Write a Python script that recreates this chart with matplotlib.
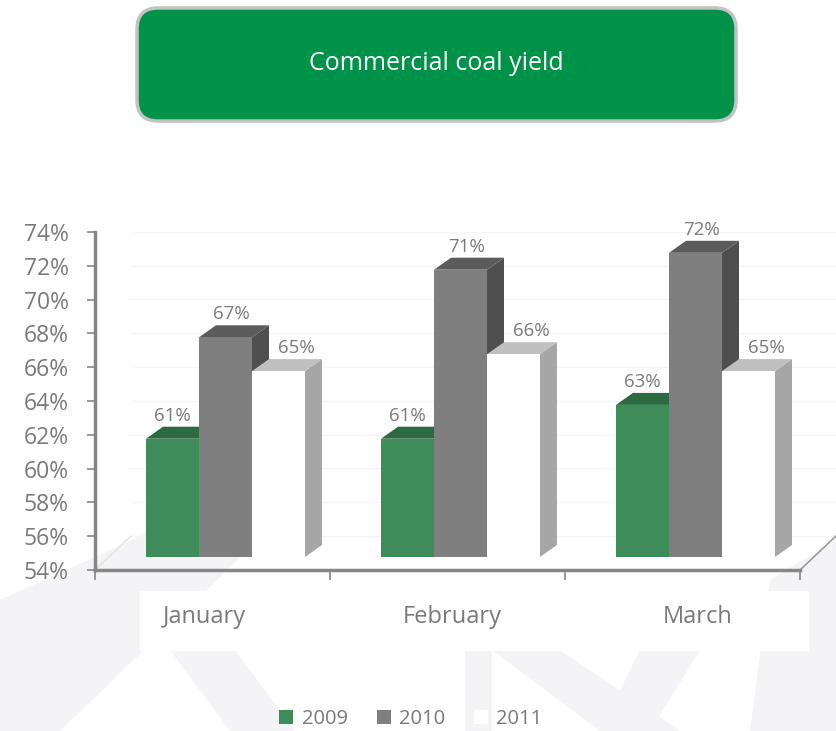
import matplotlib
matplotlib.use("Agg")
import matplotlib.pyplot as plt
from matplotlib.patches import Polygon, Rectangle, FancyBboxPatch, Patch
from matplotlib.transforms import IdentityTransform, offset_copy

plt.rcParams['font.family'] = ['Open Sans', 'DejaVu Sans']

# --- data -------------------------------------------------------------
months = ["January", "February", "March"]
years = ["2009", "2010", "2011"]
yield_2009 = [61, 61, 63]
yield_2010 = [67, 71, 72]
yield_2011 = [65, 66, 65]
y_ticks = list(range(54, 75, 2))

series = [yield_2009, yield_2010, yield_2011]
front_colors = ["#3e8c59", "#7f7f7f", "#ffffff"]
top_colors = ["#2c6a41", "#5b5b5b", "#c0c0c0"]
side_colors = ["#2a5e3c", "#4f4f4f", "#a6a6a6"]
label_dx = [0, 6, 18]          # px, label shift per series
text_gray = "#7a7a7a"

W, H = 836, 731
fig = plt.figure(figsize=(W / 100, H / 100), dpi=100)
fig.patch.set_facecolor("white")


def fpx(x, y):
    """pixel (top-left origin) -> figure fraction"""
    return (x / W, 1 - y / H)


def fig_poly(pts, color, z=-5):
    fig.add_artist(Polygon([fpx(*p) for p in pts], closed=True, facecolor=color,
                           edgecolor="none", transform=fig.transFigure, zorder=z))


# faint watermark in the lower half
wm = "#f4f4f6"
fig_poly([(0, 600), (220, 500), (300, 500), (60, 731), (0, 731)], wm)
fig_poly([(170, 650), (235, 650), (295, 731), (230, 731)], wm)
fig_poly([(465, 610), (492, 610), (492, 731), (465, 731)], wm)
fig_poly([(492, 650), (560, 650), (680, 731), (600, 731)], wm)
fig_poly([(640, 650), (700, 650), (650, 731), (600, 731)], wm)
fig_poly([(770, 580), (836, 540), (836, 731), (750, 731)], wm)

# title box
x0, y0 = fpx(137, 121)
x1, y1 = fpx(736, 8)
fig.add_artist(FancyBboxPatch((x0, y0), x1 - x0, y1 - y0,
                              boxstyle="round,pad=0,rounding_size=0.025",
                              transform=fig.transFigure, facecolor="#009249",
                              edgecolor="#c3c3c3", linewidth=2.5, zorder=1,
                              mutation_aspect=W / H))
fig.text((x0 + x1) / 2, (y0 + y1) / 2 + 0.002, "Commercial coal yield",
         color="white", fontsize=18, ha="center", va="center", zorder=2)

# white band behind category names
bx0, by0 = fpx(140, 651)
bx1, by1 = fpx(809, 591)
fig.add_artist(Rectangle((bx0, by0), bx1 - bx0, by1 - by0, transform=fig.transFigure,
                         facecolor="white", edgecolor="none", zorder=-4))

# --- axes -------------------------------------------------------------
ax = fig.add_axes([95 / W, 1 - 570 / H, 705 / W, 338 / H])
ax.set_xlim(0, 3)
ax.set_ylim(54, 74)
ax.patch.set_alpha(0)
for s in ["top", "right"]:
    ax.spines[s].set_visible(False)
for s in ["left", "bottom"]:
    ax.spines[s].set_color("#868686")
    ax.spines[s].set_linewidth(2.5)
    ax.spines[s].set_zorder(10)
ax.set_yticks(y_ticks)
ax.set_yticklabels([f"{v}%" for v in y_ticks])
ax.set_xticks([0, 1, 2, 3])
ax.set_xticklabels([])
ax.tick_params(axis="y", direction="out", length=6, width=1.2, colors="#868686",
               labelsize=16.5, labelcolor=text_gray, pad=13)
ax.tick_params(axis="x", direction="out", length=7, width=1.2, colors="#868686")

# back wall / floor, pushed back in depth
depth = offset_copy(ax.transData, fig, x=36, y=34, units="dots")
for v in y_ticks[:-1]:
    ax.plot([0, 3], [v, v], color="#f5f5f5", lw=1, transform=depth, zorder=0.5,
            clip_on=False)
pts = [ax.transData.transform((0, 54)), depth.transform((0, 54))]
ax.plot([p[0] for p in pts], [p[1] for p in pts], color="#e2e2e2", lw=1,
        transform=IdentityTransform(), clip_on=False, zorder=0.6)
pts = [ax.transData.transform((3, 54)), depth.transform((3, 54))]
ax.plot([p[0] for p in pts], [p[1] for p in pts], color="#9a9a9a", lw=1.2,
        transform=IdentityTransform(), clip_on=False, zorder=0.6)

# --- 3d-looking bars --------------------------------------------------
shift = offset_copy(ax.transData, fig, x=13, y=13, units="dots")
bar_w = 0.2255
dx, dy = 17, 12
x_center = [i + 0.5 for i in range(len(months))]

for s, vals in enumerate(series):
    xs = [c + (s - 1) * bar_w for c in x_center]
    bars = ax.bar(xs, [v - 54 for v in vals], bottom=54, width=bar_w,
                  color=front_colors[s], edgecolor="none", transform=shift,
                  zorder=3 + 2 * s)
    for rect, v in zip(bars, vals):
        (px0, py0) = shift.transform((rect.get_x(), 54))
        (px1, py1) = shift.transform((rect.get_x() + bar_w, v))
        ax.add_patch(Polygon([(px1, py0), (px1 + dx, py0 + dy), (px1 + dx, py1 + dy),
                              (px1, py1)], closed=True, facecolor=side_colors[s],
                             edgecolor="none", transform=IdentityTransform(),
                             zorder=2 + 2 * s, clip_on=False))
        ax.add_patch(Polygon([(px0, py1), (px1, py1), (px1 + dx, py1 + dy),
                              (px0 + dx, py1 + dy)], closed=True,
                             facecolor=top_colors[s], edgecolor="none",
                             transform=IdentityTransform(), zorder=2 + 2 * s,
                             clip_on=False))
        ax.annotate(f"{v}%", xy=(rect.get_x() + bar_w / 2, v), xycoords=shift,
                    xytext=(label_dx[s], 23), textcoords="offset pixels",
                    ha="center", va="center", fontsize=13.5, color=text_gray,
                    zorder=20, annotation_clip=False)

# category names
name_dx = [-8, 5, 15]
for c, name, ndx in zip(x_center, months, name_dx):
    ax.annotate(name, xy=(c, 54), xycoords="data", xytext=(ndx, -47),
                textcoords="offset pixels", ha="center", va="center",
                fontsize=17, color=text_gray, annotation_clip=False, zorder=20)

handles = [Patch(facecolor=c, edgecolor="none") for c in front_colors]
fig.legend(handles, years, loc="center", bbox_to_anchor=fpx(411, 719), ncol=3,
           frameon=False, fontsize=14.5, handlelength=0.7, handleheight=0.7,
           handletextpad=0.4, columnspacing=1.45, labelcolor=text_gray)

fig.savefig("out.png", dpi=100)
